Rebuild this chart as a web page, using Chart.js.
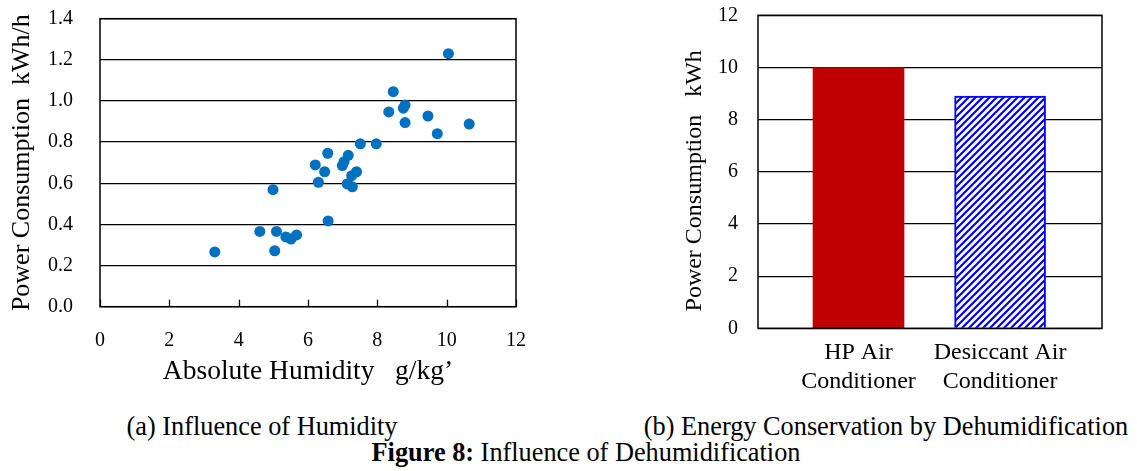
<!DOCTYPE html>
<html>
<head>
<meta charset="utf-8">
<script src="https://cdn.jsdelivr.net/npm/chart.js@4.4.1/dist/chart.umd.min.js"></script>
<style>
  body { margin: 0; background: #fff; font-family: "Liberation Serif", "Times New Roman", serif; }
  #page { position: relative; width: 1137px; height: 471px; overflow: hidden; }
  canvas { position: absolute; top: 0; }
  .cap { position: absolute; font-size: 26.3px; line-height: 26px; text-align: center; color: #000; white-space: nowrap; }
</style>
</head>
<body>
<div id="page">
  <canvas id="hum" width="545" height="395" style="left:0"></canvas>
  <canvas id="ene" width="477" height="395" style="left:660px"></canvas>
  <div class="cap" style="left:62px; width:400px; top:414px">(a) Influence of Humidity</div>
  <div class="cap" style="left:636px; width:500px; top:414px">(b) Energy Conservation by Dehumidification</div>
  <div class="cap" style="left:286px; width:600px; top:440px"><b>Figure 8:</b> Influence of Dehumidification</div>
</div>
<script>
// (a) humedad absoluta (g/kg') vs consumo (kWh/h)
const humedad = [10.05, 8.46, 8.75, 8.80, 8.33, 9.46, 8.80, 10.65, 9.73, 7.51, 7.97,
  6.57, 7.16, 7.04, 6.99, 6.21, 6.48, 7.40, 7.26, 6.30, 7.13, 7.28, 4.99, 6.58,
  4.61, 5.09, 5.36, 5.51, 5.67, 3.31, 5.04];
const consumo = [1.23, 1.045, 0.965, 0.98, 0.947, 0.927, 0.895, 0.888, 0.841, 0.792, 0.792,
  0.746, 0.736, 0.705, 0.686, 0.689, 0.656, 0.656, 0.637, 0.605, 0.597, 0.583, 0.569, 0.417,
  0.366, 0.366, 0.339, 0.329, 0.349, 0.266, 0.272];

// (b) consumo por equipo (kWh)
const equipos = [["HP Air", "Conditioner"], ["Desiccant Air", "Conditioner"]];
const consumoEquipo = [10.0, 8.9];

Chart.defaults.font.family = '"Liberation Serif", "Times New Roman", serif';
Chart.defaults.color = "#000";

// quitar el margen extra que agregan las etiquetas (se controla con layout.padding)
const sinMargen = (s) => {
  s.paddingTop = 0; s.paddingBottom = 0; s.paddingLeft = 0; s.paddingRight = 0;
};

// marco del área de trazado
const marco = {
  id: "marco",
  afterDraw(chart) {
    const { ctx, chartArea: a } = chart;
    ctx.save();
    ctx.strokeStyle = "#000";
    ctx.lineWidth = 1.5;
    ctx.strokeRect(a.left, a.top, a.right - a.left, a.bottom - a.top);
    ctx.restore();
  },
};

// marcas del eje x hacia adentro
const marcasX = {
  id: "marcasX",
  afterDraw(chart) {
    const { ctx, chartArea: a, scales } = chart;
    ctx.save();
    ctx.strokeStyle = "#000";
    ctx.lineWidth = 1.3;
    scales.x.ticks.forEach((t) => {
      const px = Math.round(scales.x.getPixelForValue(t.value)) + 0.5;
      ctx.beginPath();
      ctx.moveTo(px, a.bottom);
      ctx.lineTo(px, a.bottom - 7);
      ctx.stroke();
    });
    ctx.restore();
  },
};

new Chart(document.getElementById("hum"), {
  type: "scatter",
  data: {
    datasets: [{
      data: humedad.map((x, i) => ({ x, y: consumo[i] })),
      backgroundColor: "#0070C0",
      borderWidth: 0,
      pointRadius: 5.5,
    }],
  },
  options: {
    responsive: false,
    animation: false,
    devicePixelRatio: 1,
    layout: { padding: { left: 7, top: 18.7, right: 29, bottom: 0 } },
    plugins: { legend: { display: false }, tooltip: { enabled: false } },
    scales: {
      x: {
        min: 0, max: 12,
        ticks: { stepSize: 2, padding: 22, font: { size: 20 } },
        grid: { display: false, drawTicks: false },
        border: { display: false },
        title: { display: true, text: "Absolute Humidity   g/kg’", font: { size: 27.5 }, padding: { top: 0, bottom: 7 } },
        afterFit: (s) => { s.height = 88.3; sinMargen(s); },
      },
      y: {
        min: 0, max: 1.4,
        ticks: { stepSize: 0.2, padding: 27, font: { size: 20 }, callback: (v) => v.toFixed(1) },
        grid: { color: "#000", lineWidth: 1.3, drawTicks: false },
        border: { display: false },
        title: { display: true, text: "Power Consumption  kWh/h", font: { size: 26 }, padding: 0 },
        afterFit: (s) => { s.width = 93; sinMargen(s); },
      },
    },
  },
  plugins: [marco, marcasX],
});

// patrón rayado azul para la barra del desecante
const rayado = (() => {
  const c = document.createElement("canvas");
  c.width = 7; c.height = 7;
  const g = c.getContext("2d");
  g.fillStyle = "#fff";
  g.fillRect(0, 0, 7, 7);
  g.strokeStyle = "#0000FF";
  g.lineWidth = 2.2;
  g.beginPath();
  g.moveTo(-1, 8); g.lineTo(8, -1);
  g.moveTo(-1, 1); g.lineTo(1, -1);
  g.moveTo(6, 8); g.lineTo(8, 6);
  g.stroke();
  return g.createPattern(c, "repeat");
})();

new Chart(document.getElementById("ene"), {
  type: "bar",
  data: {
    datasets: [{
      data: consumoEquipo.map((y, i) => ({ x: i, y })),
      backgroundColor: ["#C00000", rayado],
      borderColor: ["#C00000", "#0000FF"],
      borderWidth: [0, 2],
      barThickness: 91,
    }],
  },
  options: {
    responsive: false,
    animation: false,
    devicePixelRatio: 1,
    layout: { padding: { left: 20, top: 15.3, right: 35, bottom: 0 } },
    plugins: { legend: { display: false }, tooltip: { enabled: false } },
    scales: {
      x: {
        type: "linear",
        offset: false,
        min: -0.71, max: 1.72,
        afterBuildTicks: (s) => { s.ticks = equipos.map((e, i) => ({ value: i })); },
        ticks: { padding: 10, font: { size: 24 }, maxRotation: 0, callback: (v) => equipos[v] || "" },
        grid: { display: false, drawTicks: false, offset: false },
        border: { display: false },
        afterFit: (s) => { s.height = 66.7; sinMargen(s); },
      },
      y: {
        min: 0, max: 12,
        ticks: { stepSize: 2, padding: 20, font: { size: 20 } },
        grid: { color: "#000", lineWidth: 1.2, drawTicks: false },
        border: { display: false },
        // espacios al final para bajar un poco el título, como en el original
        title: { display: true, text: "Power Consumption   kWh   ", font: { size: 24 }, padding: 0 },
        afterFit: (s) => { s.width = 78; sinMargen(s); },
      },
    },
  },
  plugins: [marco],
});
</script>
</body>
</html>
